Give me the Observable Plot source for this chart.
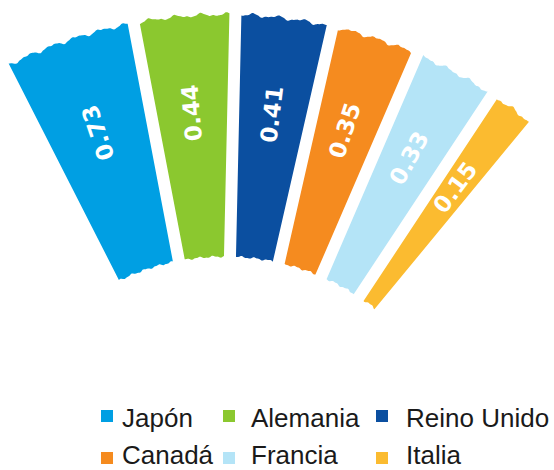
<!DOCTYPE html>
<html><head><meta charset="utf-8">
<script src="https://cdn.jsdelivr.net/npm/d3@7"></script>
<script src="https://cdn.jsdelivr.net/npm/@observablehq/plot@0.6"></script>
<style>
  body{margin:0;background:#fff;width:554px;height:470px;overflow:hidden;}
  #chart svg{display:block;}
  #legend{position:relative;width:554px;height:85px;font-family:"Liberation Sans",Arial,sans-serif;font-size:26px;color:#1a1a1a;}
  .sw{position:absolute;width:12px;height:12px;}
  .lt{position:absolute;line-height:18px;white-space:nowrap;}
</style>
</head><body>
<div id="chart"></div>
<div id="legend"></div>
<script>
// ---- data ----
const countries = ["Japón", "Alemania", "Reino Unido", "Canadá", "Francia", "Italia"];
const values = [0.73, 0.44, 0.41, 0.35, 0.33, 0.15];
const labels = ["0.73", "0.44", "0.41", "0.35", "0.33", "0.15"];
const colors = ["#009fe3", "#8bc82f", "#0b4fa0", "#f58b1f", "#b4e4f7", "#fbbb30"];

// ---- layout ----
const W = 554, H = 385;
const CX = 224, CY = 500;         // fan centre (px)
const R_OUT = 486, R_IN = 244;    // radii (px)
const HALF_GAP = 6;               // half gap between wedges (px)
const LABEL_R = 389;
const START_DEG = -27;
const angleScale = d3.scaleSqrt().domain([0, 1]).range([0, 21.8]);
const ANGLE_TRIM = 2.4;

const rad = d => d * Math.PI / 180;
// deterministic "torn paper" edge roughness (decoration only)
function wobbleOut(t) { return 1.4*Math.sin(t*120 + 1.0) + 0.7*Math.sin(t*230 + 0.3) + 0.3*Math.sin(t*470); }
function wobbleIn(t) { return 0.8*Math.sin(t*110 + 0.4) + 0.35*Math.sin(t*260 + 2.1); }

const pts = [];
const lab = [];
let a = START_DEG;
countries.forEach((c, i) => {
  const span = angleScale(values[i]) - ANGLE_TRIM;
  const a0 = rad(a), a1 = rad(a + span);
  a += span;
  const N = 120;
  const oo = Math.asin(HALF_GAP / R_OUT), oi = Math.asin(HALF_GAP / R_IN);
  for (let k = 0; k <= N; k++) {
    const th = (a0 + oo) + (k / N) * ((a1 - oo) - (a0 + oo));
    const r = (R_OUT + wobbleOut(th)) / R_OUT;
    pts.push({country: c, x: r * Math.sin(th), y: r * Math.cos(th)});
  }
  for (let k = N; k >= 0; k--) {
    const th = (a0 + oi) + (k / N) * ((a1 - oi) - (a0 + oi));
    const r = (R_IN + wobbleIn(th)) / R_OUT;
    pts.push({country: c, x: r * Math.sin(th), y: r * Math.cos(th)});
  }
  const mid = (a0 + a1) / 2;
  const lr = LABEL_R / R_OUT;
  lab.push({country: c, text: labels[i], x: lr * Math.sin(mid), y: lr * Math.cos(mid), rot: mid * 180 / Math.PI - 90});
});

const chart = Plot.plot({
  width: W, height: H, margin: 0,
  style: {background: "white"},
  x: {domain: [-CX / R_OUT, (W - CX) / R_OUT], axis: null},
  y: {domain: [(CY - H) / R_OUT, CY / R_OUT], axis: null},
  color: {domain: countries, range: colors},
  marks: [
    Plot.line(pts, {x: "x", y: "y", z: "country", fill: "country", stroke: "none"}),
    Plot.text(lab, {x: "x", y: "y", text: "text", rotate: "rot", fill: "white",
      fontSize: 23, fontWeight: "bold", fontFamily: "DejaVu Sans", textAnchor: "middle", lineAnchor: "middle"})
  ]
});
document.getElementById("chart").appendChild(chart);

// ---- legend ----
const legCols = [101, 223, 376];
const legGap = [9, 16, 18];
const legRowsSw = [25, 67];
const legRowsTx = [24, 61];
const leg = document.getElementById("legend");
countries.forEach((c, i) => {
  const col = i % 3, row = Math.floor(i / 3);
  const sw = document.createElement("div");
  sw.className = "sw";
  sw.style.left = legCols[col] + "px";
  sw.style.top = legRowsSw[row] + "px";
  sw.style.background = colors[i];
  leg.appendChild(sw);
  const t = document.createElement("div");
  t.className = "lt";
  t.style.left = (legCols[col] + 12 + legGap[col]) + "px";
  t.style.top = legRowsTx[row] + "px";
  t.textContent = c;
  leg.appendChild(t);
});
</script>
</body></html>
